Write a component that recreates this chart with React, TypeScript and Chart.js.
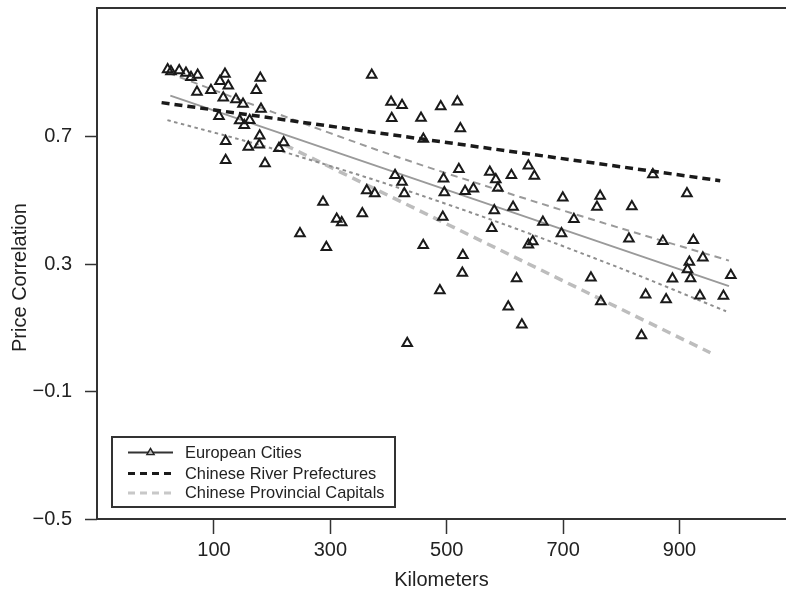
import React, { useEffect, useRef } from 'react';
import { Chart, registerables } from 'chart.js';

Chart.register(...registerables);

// ---- data ----
const euroKm = [
  20.4, 26.1, 40.3, 51.9, 60.5, 72.0, 118.9, 110.3, 124.6, 179.6,
  70.8, 94.8, 172.7, 116.0, 137.8, 149.9, 180.8, 108.6, 144.2, 161.4,
  152.1, 178.6, 177.9, 159.0, 120.1, 219.8, 211.7, 120.1, 187.7, 287.4,
  371.1, 404.3, 423.2, 405.5, 455.8, 489.7, 518.3, 523.4, 459.8, 411.2,
  423.2, 362.5, 376.3, 427.1, 494.5, 520.8, 495.9, 531.5, 545.8, 574.0,
  584.3, 587.9, 611.1, 640.3, 650.6, 854.2, 912.8, 493.2, 581.7, 614.0,
  577.4, 665.2, 699.4, 718.5, 697.2, 763.6, 758.1, 818.1, 813.1, 871.4,
  923.8, 940.1, 916.9, 913.7, 919.0, 887.9, 988.2, 841.8, 877.0, 935.1,
  975.5, 747.8, 764.8, 834.6, 647.9, 640.3, 459.6, 527.7, 526.8, 620.0,
  488.2, 605.7, 629.1, 432.1, 310.9, 319.5, 247.8, 293.1, 354.9,
];
const euroCorr = [
  0.911, 0.905, 0.908, 0.900, 0.887, 0.894, 0.897, 0.874, 0.860, 0.884,
  0.840, 0.846, 0.846, 0.822, 0.817, 0.803, 0.787, 0.764, 0.751, 0.752,
  0.736, 0.703, 0.675, 0.668, 0.686, 0.682, 0.664, 0.626, 0.616, 0.495,
  0.894, 0.809, 0.799, 0.758, 0.759, 0.795, 0.810, 0.726, 0.693, 0.579,
  0.558, 0.531, 0.522, 0.522, 0.568, 0.598, 0.525, 0.529, 0.537, 0.589,
  0.566, 0.539, 0.579, 0.609, 0.577, 0.581, 0.522, 0.448, 0.468, 0.479,
  0.413, 0.432, 0.508, 0.441, 0.396, 0.514, 0.479, 0.481, 0.380, 0.372,
  0.375, 0.320, 0.307, 0.283, 0.255, 0.254, 0.265, 0.204, 0.189, 0.201,
  0.200, 0.257, 0.183, 0.076, 0.371, 0.361, 0.359, 0.328, 0.272, 0.255,
  0.217, 0.166, 0.110, 0.052, 0.442, 0.431, 0.396, 0.353, 0.459,
];

const euroFitKm = [25, 985];
const euroFitCorr = [0.829, 0.231];
const euroUpperKm = [22, 200, 400, 600, 800, 985];
const euroUpperCorr = [0.9, 0.778, 0.646, 0.526, 0.412, 0.311];
const euroLowerKm = [20, 200, 400, 600, 800, 980];
const euroLowerCorr = [0.752, 0.663, 0.55, 0.424, 0.286, 0.152];
const riverKm = [10, 970];
const riverCorr = [0.807, 0.562];
const provKm = [222, 953];
const provCorr = [0.674, 0.022];

const xTicks = [100, 300, 500, 700, 900];
const yTicks = [0.7, 0.3, -0.1, -0.5];
const legendLabels = ['European Cities', 'Chinese River Prefectures', 'Chinese Provincial Capitals'];
const xTitle = 'Kilometers';
const yTitle = 'Price Correlation';

const FONT = '"Liberation Sans", Arial, Helvetica, sans-serif';
const TEXT = '#222222';
const FRAME = '#333333';

const pts = (xs: number[], ys: number[]) => xs.map((x, i) => ({ x, y: ys[i] }));

const fmtY = (v: number) => (v < 0 ? '\u2212' + Math.abs(v).toFixed(1) : v.toFixed(1));

const decorPlugin = {
  id: 'decor',
  afterDraw(chart: any) {
    const { ctx, chartArea: ca } = chart;
    ctx.save();
    // frame: left, top, bottom
    ctx.strokeStyle = FRAME;
    ctx.lineWidth = 2;
    ctx.setLineDash([]);
    ctx.beginPath();
    ctx.moveTo(ca.right + 2, ca.top);
    ctx.lineTo(ca.left, ca.top);
    ctx.lineTo(ca.left, ca.bottom);
    ctx.lineTo(ca.right + 2, ca.bottom);
    ctx.stroke();

    // y title
    ctx.save();
    ctx.translate(20, ca.top + (ca.bottom - ca.top) / 2 + 14);
    ctx.rotate(-Math.PI / 2);
    ctx.font = `20px ${FONT}`;
    ctx.fillStyle = TEXT;
    ctx.textAlign = 'center';
    ctx.textBaseline = 'middle';
    ctx.fillText(yTitle, 0, 0);
    ctx.restore();

    // legend
    const bx = ca.left + 15;
    const by = ca.bottom - 82;
    const bw = 283;
    const bh = 70;
    ctx.fillStyle = '#ffffff';
    ctx.fillRect(bx, by, bw, bh);
    ctx.strokeStyle = FRAME;
    ctx.lineWidth = 2;
    ctx.strokeRect(bx, by, bw, bh);
    const rows = [by + 15.5, by + 36.5, by + 56];
    const lx0 = bx + 16;
    const lx1 = bx + 61;
    ctx.beginPath();
    ctx.strokeStyle = '#333333';
    ctx.lineWidth = 2.2;
    ctx.moveTo(lx0, rows[0]);
    ctx.lineTo(lx1, rows[0]);
    ctx.stroke();
    const cx = (lx0 + lx1) / 2;
    const r = 4.2;
    ctx.beginPath();
    ctx.moveTo(cx, rows[0] - r);
    ctx.lineTo(cx + 0.866 * r, rows[0] + r / 2);
    ctx.lineTo(cx - 0.866 * r, rows[0] + r / 2);
    ctx.closePath();
    ctx.fillStyle = '#b8b8b8';
    ctx.fill();
    ctx.lineWidth = 1.4;
    ctx.strokeStyle = '#222222';
    ctx.stroke();
    ctx.beginPath();
    ctx.setLineDash([7, 5]);
    ctx.strokeStyle = '#1a1a1a';
    ctx.lineWidth = 3;
    ctx.moveTo(lx0, rows[1]);
    ctx.lineTo(lx1, rows[1]);
    ctx.stroke();
    ctx.beginPath();
    ctx.strokeStyle = '#c8c8c8';
    ctx.moveTo(lx0, rows[2]);
    ctx.lineTo(lx1, rows[2]);
    ctx.stroke();
    ctx.setLineDash([]);
    ctx.font = `16.4px ${FONT}`;
    ctx.fillStyle = TEXT;
    ctx.textAlign = 'left';
    ctx.textBaseline = 'middle';
    legendLabels.forEach((t, i) => ctx.fillText(t, bx + 73, rows[i] + 0.5));
    ctx.restore();
  },
};

export default function App() {
  const ref = useRef<HTMLCanvasElement | null>(null);
  useEffect(() => {
    document.body.style.margin = '0';
    const canvas = ref.current;
    if (!canvas) return;
    const chart = new Chart(canvas, {
      type: 'scatter',
      data: {
        datasets: [
          {
            label: legendLabels[0],
            data: pts(euroKm, euroCorr),
            pointStyle: 'triangle',
            pointRadius: 5.5,
            pointBorderWidth: 2,
            borderColor: '#1a1a1a',
            backgroundColor: 'rgba(0,0,0,0)',
            showLine: false,
            order: 0,
          },
          {
            label: 'fit',
            data: pts(euroFitKm, euroFitCorr),
            showLine: true,
            pointRadius: 0,
            borderColor: '#9a9a9a',
            borderWidth: 2,
            order: 3,
          },
          {
            label: 'upper',
            data: pts(euroUpperKm, euroUpperCorr),
            showLine: true,
            pointRadius: 0,
            borderColor: '#9a9a9a',
            borderWidth: 2,
            borderDash: [7, 5],
            tension: 0.3,
            order: 4,
          },
          {
            label: 'lower',
            data: pts(euroLowerKm, euroLowerCorr),
            showLine: true,
            pointRadius: 0,
            borderColor: '#8e8e8e',
            borderWidth: 2,
            borderDash: [3.5, 3.5],
            tension: 0.3,
            order: 5,
          },
          {
            label: legendLabels[2],
            data: pts(provKm, provCorr),
            showLine: true,
            pointRadius: 0,
            borderColor: '#bdbdbd',
            borderWidth: 3.5,
            borderDash: [9, 6],
            order: 6,
          },
          {
            label: legendLabels[1],
            data: pts(riverKm, riverCorr),
            showLine: true,
            pointRadius: 0,
            borderColor: '#1a1a1a',
            borderWidth: 3.5,
            borderDash: [8, 5],
            order: 2,
          },
        ],
      },
      options: {
        animation: false,
        responsive: false,
        maintainAspectRatio: false,
        layout: { autoPadding: false, padding: { left: 0, top: 8, right: 0, bottom: 0 } },
        plugins: {
          legend: { display: false },
          tooltip: { enabled: false },
        },
        scales: {
          x: {
            type: 'linear',
            min: -101,
            max: 1083,
            afterBuildTicks: (s: any) => {
              s.ticks = xTicks.map((v) => ({ value: v }));
            },
            afterFit: (s: any) => {
              s.height = 72;
              s.paddingLeft = 0;
              s.paddingRight = 0;
            },
            border: { display: false },
            grid: {
              display: true,
              drawOnChartArea: false,
              drawTicks: true,
              tickLength: 15,
              tickColor: FRAME,
              tickWidth: 1.5,
            },
            ticks: {
              padding: 4,
              color: TEXT,
              font: { family: FONT, size: 20, lineHeight: 1.2 },
              callback: (v: any) => String(v),
              maxRotation: 0,
            },
            title: {
              display: true,
              text: xTitle,
              color: TEXT,
              font: { family: FONT, size: 20, lineHeight: 1 },
              padding: { top: 0, bottom: 1 },
            },
          },
          y: {
            type: 'linear',
            min: -0.5,
            max: 1.104,
            afterBuildTicks: (s: any) => {
              s.ticks = yTicks.map((v) => ({ value: v }));
            },
            afterFit: (s: any) => {
              s.width = 97;
              s.paddingTop = 0;
              s.paddingBottom = 0;
            },
            border: { display: false },
            grid: {
              display: true,
              drawOnChartArea: false,
              drawTicks: true,
              tickLength: 12,
              tickColor: FRAME,
              tickWidth: 1.5,
            },
            ticks: {
              padding: 13,
              color: TEXT,
              font: { family: FONT, size: 20, lineHeight: 1.2 },
              callback: (v: any) => fmtY(Number(v)),
            },
            title: { display: false },
          },
        },
      },
      plugins: [decorPlugin],
    });
    return () => chart.destroy();
  }, []);
  return (
    <div style={{ width: 786, height: 591 }}>
      <canvas ref={ref} width={786} height={591} style={{ display: 'block' }} />
    </div>
  );
}
